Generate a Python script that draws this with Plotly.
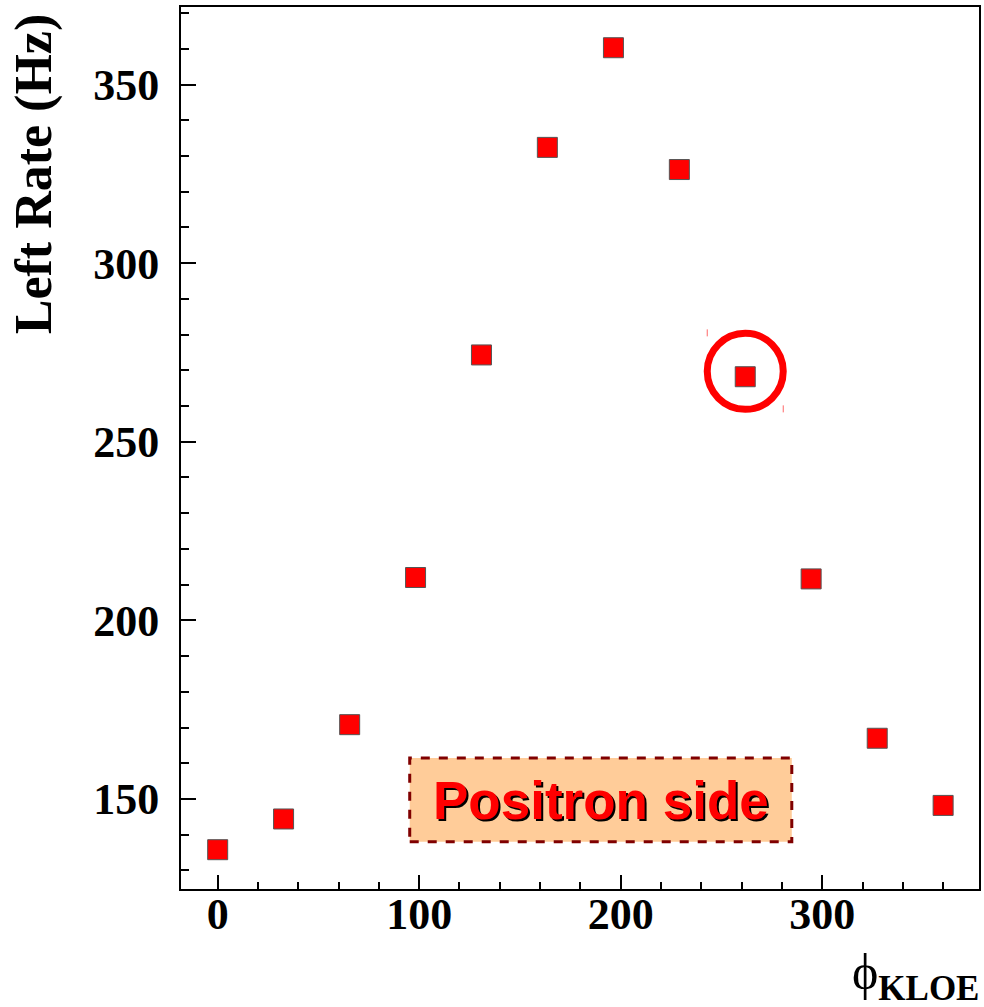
import plotly.graph_objects as go

phi = [0.0, 32.7, 65.5, 98.2, 130.9, 163.6, 196.4, 229.1, 261.8, 294.5, 327.3, 360.0]
left_rate = [135.8, 144.4, 170.8, 212.0, 274.3, 332.4, 360.3, 326.2, 268.2, 211.6, 167.0, 148.2]

x_ticks = [0, 100, 200, 300]
y_ticks = [150, 200, 250, 300, 350]
x_range = [-18.2, 377.8]
y_range = [124.8, 371.7]

highlight_index = 8
highlight_y = 269.7
label_text = "Positron side"
label_box_x = [95.3, 284.9]
label_box_y = [138.0, 161.5]

fig = go.Figure()
fig.add_trace(go.Scatter(
    x=phi, y=left_rate, mode="markers",
    marker=dict(symbol="square", size=20, color="#ff0000",
                line=dict(color="#555555", width=1)),
    showlegend=False, hoverinfo="x+y",
))

axis_font = dict(family="Liberation Serif", size=44, color="black", weight="bold")

fig.update_layout(
    width=984, height=1007,
    margin=dict(l=181, r=3, t=7, b=118),
    paper_bgcolor="white", plot_bgcolor="white",
    showlegend=False,
    xaxis=dict(
        range=x_range, tickvals=x_ticks, ticks="inside", ticklen=14, tickwidth=2,
        tickcolor="black", showline=True, linecolor="black", linewidth=2, mirror=True,
        showgrid=False, zeroline=False, tickfont=axis_font, ticklabelstandoff=-15,
        minor=dict(dtick=20, ticks="inside", ticklen=7, tickwidth=2, tickcolor="black", showgrid=False),
    ),
    yaxis=dict(
        range=y_range, tickvals=y_ticks, ticks="inside", ticklen=15, tickwidth=2,
        tickcolor="black", showline=True, linecolor="black", linewidth=2, mirror=True,
        showgrid=False, zeroline=False, tickfont=axis_font, ticklabelstandoff=11,
        minor=dict(dtick=10, ticks="inside", ticklen=8, tickwidth=2, tickcolor="black", showgrid=False),
    ),
)

# y axis title
fig.add_annotation(
    text="<b>Left Rate (Hz)</b>", xref="paper", yref="paper",
    x=-0.182, y=1.0, xanchor="center", yanchor="top", textangle=-90,
    showarrow=False, font=dict(family="Liberation Serif", size=52, color="black"),
    xshift=-2, yshift=-4,
)
# x axis title
fig.add_annotation(
    text="\u03d5<sub><b>KLOE</b></sub>", xref="paper", yref="paper",
    x=1.0, y=0, xanchor="right", yanchor="top",
    showarrow=False, font=dict(family="Liberation Serif", size=50, color="black"),
    yshift=-53, xshift=2,
)

# label box
fig.add_shape(
    type="rect", xref="x", yref="y",
    x0=label_box_x[0], x1=label_box_x[1], y0=label_box_y[0], y1=label_box_y[1],
    fillcolor="#ffcc99", line=dict(color="#800000", width=3, dash="dash"), layer="above",
)
cx = (label_box_x[0] + label_box_x[1]) / 2
cy = (label_box_y[0] + label_box_y[1]) / 2
for color, dx, dy in [("black", 2, -2), ("#ff0000", 0, 0)]:
    fig.add_annotation(
        text="<b>" + label_text + "</b>", xref="x", yref="y", x=cx, y=cy,
        xanchor="center", yanchor="middle", showarrow=False,
        font=dict(family="Liberation Sans", size=53, color=color),
        xshift=dx, yshift=dy - 1,
    )

# highlight circle around one point
hx = phi[highlight_index]
fig.add_shape(
    type="circle", xref="x", yref="y", xsizemode="pixel", ysizemode="pixel",
    xanchor=hx, yanchor=highlight_y, x0=-38, x1=38, y0=-38, y1=38,
    line=dict(color="#ff0000", width=7),
)
for px0, py0, py1 in [(-38, 35, 42), (38, -41, -34)]:
    fig.add_shape(
        type="line", xref="x", yref="y", xsizemode="pixel", ysizemode="pixel",
        xanchor=hx, yanchor=highlight_y, x0=px0, x1=px0, y0=py0, y1=py1,
        line=dict(color="#ff6666", width=1),
    )

fig.write_html(
    "out.html",
    config={"displayModeBar": False},
    post_script="document.body.style.margin='0';document.documentElement.style.overflow='hidden';document.body.style.overflow='hidden';",
)
